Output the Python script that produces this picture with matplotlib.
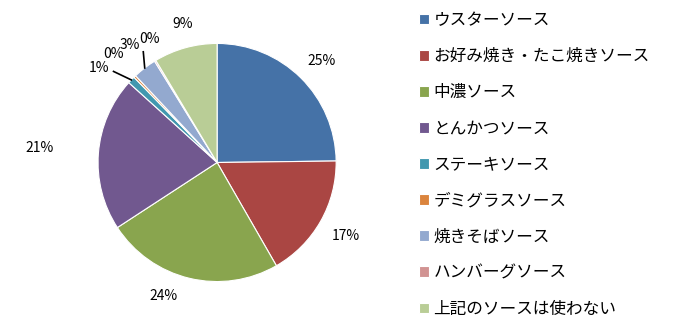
import matplotlib
matplotlib.use('Agg')
import matplotlib.pyplot as plt
import numpy as np

plt.rcParams['font.family'] = ['Noto Sans CJK JP', 'DejaVu Sans']

# sauce survey shares (%)
categories = ['ウスターソース', 'お好み焼き・たこ焼きソース', '中濃ソース', 'とんかつソース',
              'ステーキソース', 'デミグラスソース', '焼きそばソース', 'ハンバーグソース',
              '上記のソースは使わない']
shares = [24.8, 16.9, 24.1, 20.9, 1.0, 0.3, 3.2, 0.2, 8.6]
colors = ['#4572A7', '#AA4643', '#89A54E', '#71588F', '#4198AF',
          '#DB843D', '#93A9CF', '#D19392', '#B9CD96']

# label placement (pie-radius units) and which labels get a leader line
label_pos = [(0.88, 0.85), (1.08, -0.62), (-0.45, -1.12), (-1.49, 0.12),
             (-0.99, 0.79), (-0.87, 0.91), (-0.735, 0.99), (-0.57, 1.04), (-0.29, 1.16)]
leaders = {4: (-0.87, 0.765), 6: (-0.62, 0.93)}

fig = plt.figure(figsize=(6.74, 3.25), dpi=100)
ax = fig.add_axes([0.1276, 0.0, 0.389, 1.0])

wedges, _ = ax.pie(shares, colors=colors, startangle=90, counterclock=False,
                   wedgeprops=dict(edgecolor='white', linewidth=0.8))
ax.set_xlim(-1.1, 1.1)
ax.set_ylim(-1.365, 1.365)
ax.set_aspect('equal')

total = sum(shares)
for i, (w, val) in enumerate(zip(wedges, shares)):
    x, y = label_pos[i]
    ax.text(x, y, f'{val / total * 100:.0f}%', ha='center', va='center', fontsize=10,
            clip_on=False)
    if i in leaders:
        mid = np.deg2rad((w.theta1 + w.theta2) / 2)
        sx, sy = leaders[i]
        ax.plot([sx, np.cos(mid)], [sy, np.sin(mid)], color='black', lw=1.2,
                clip_on=False)

fig.legend(wedges, categories, loc='upper left', bbox_to_anchor=(0.6, 1.009),
           frameon=False, fontsize=12, labelspacing=1.145,
           handlelength=0.6, handleheight=0.6, handletextpad=0.25)

fig.savefig('out.png', dpi=100)
